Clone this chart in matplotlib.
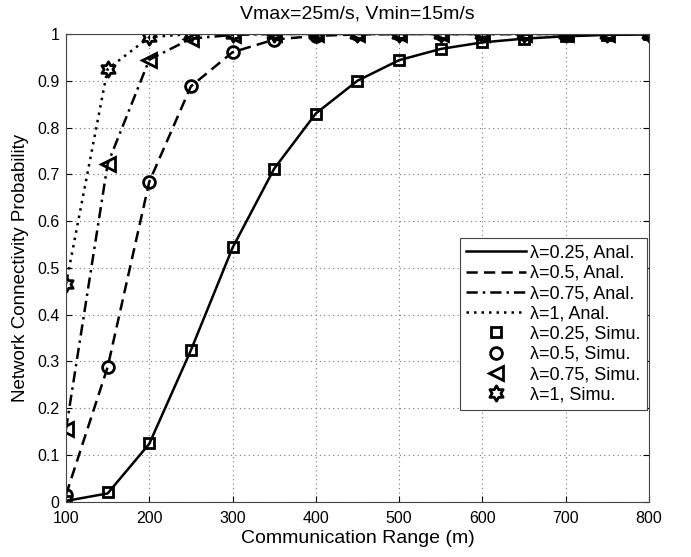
import numpy as np
import matplotlib
matplotlib.use("Agg")
import matplotlib.pyplot as plt
from matplotlib.path import Path

plt.rcParams['font.family'] = ['Liberation Sans', 'DejaVu Sans']

comm_range = [100, 150, 200, 250, 300, 350, 400, 450, 500, 550, 600, 650, 700, 750, 800]

anal_025 = [0.002, 0.018, 0.124, 0.324, 0.543, 0.712, 0.830, 0.900, 0.944, 0.968, 0.982, 0.990, 0.995, 0.998, 0.999]
anal_05 = [0.015, 0.288, 0.684, 0.888, 0.961, 0.988, 0.996, 0.999, 1.0, 1.0, 1.0, 1.0, 1.0, 1.0, 1.0]
anal_075 = [0.155, 0.722, 0.945, 0.990, 0.998, 1.0, 1.0, 1.0, 1.0, 1.0, 1.0, 1.0, 1.0, 1.0, 1.0]
anal_1 = [0.465, 0.925, 0.993, 1.0, 1.0, 1.0, 1.0, 1.0, 1.0, 1.0, 1.0, 1.0, 1.0, 1.0, 1.0]

simu_025 = [0.002, 0.020, 0.125, 0.325, 0.545, 0.712, 0.830, 0.900, 0.944, 0.968, 0.982, 0.990, 0.995, 0.998, 0.999]
simu_05 = [0.015, 0.288, 0.684, 0.888, 0.962, 0.988, 0.996, 0.999, 1.0, 1.0, 1.0, 1.0, 1.0, 1.0, 1.0]
simu_075 = [0.155, 0.722, 0.945, 0.990, 0.998, 1.0, 1.0, 1.0, 1.0, 1.0, 1.0, 1.0, 1.0, 1.0, 1.0]
simu_1 = [0.465, 0.925, 0.993, 1.0, 1.0, 1.0, 1.0, 1.0, 1.0, 1.0, 1.0, 1.0, 1.0, 1.0, 1.0]

anal_labels = ['λ=0.25, Anal.', 'λ=0.5, Anal.', 'λ=0.75, Anal.', 'λ=1, Anal.']
simu_labels = ['λ=0.25, Simu.', 'λ=0.5, Simu.', 'λ=0.75, Simu.', 'λ=1, Simu.']
xtick_vals = [100, 200, 300, 400, 500, 600, 700, 800]
ytick_vals = [0, 0.1, 0.2, 0.3, 0.4, 0.5, 0.6, 0.7, 0.8, 0.9, 1]
ytick_labels = ['0', '0.1', '0.2', '0.3', '0.4', '0.5', '0.6', '0.7', '0.8', '0.9', '1']


def hexagram():
    verts = []
    for k in range(12):
        ang = np.pi / 2 + k * np.pi / 6
        r = 1.0 if k % 2 == 0 else 1.0 / np.sqrt(3)
        verts.append((r * np.cos(ang), r * np.sin(ang)))
    verts.append(verts[0])
    codes = [Path.MOVETO] + [Path.LINETO] * 11 + [Path.CLOSEPOLY]
    return Path(verts, codes)


fig = plt.figure(figsize=(6.91, 5.57), dpi=100)
ax = fig.add_axes([0.0955, 0.099, 0.8435, 0.840])

lw = 1.8
ax.plot(comm_range, anal_025, color='black', linestyle='-', lw=lw, label=anal_labels[0])
ax.plot(comm_range, anal_05, color='black', linestyle=(0, (4.5, 2.5)), lw=lw, label=anal_labels[1])
ax.plot(comm_range, anal_075, color='black', linestyle=(0, (4.5, 2, 1, 2)), lw=lw, label=anal_labels[2])
ax.plot(comm_range, anal_1, color='black', linestyle=(0, (1, 2)), lw=lw, label=anal_labels[3])

mk = dict(color='black', linestyle='none', markerfacecolor='none', markeredgewidth=2)
ax.plot(comm_range, simu_025, marker='s', markersize=7.5, label=simu_labels[0], **mk)
ax.plot(comm_range, simu_05, marker='o', markersize=8.5, label=simu_labels[1], **mk)
ax.plot(comm_range, simu_075, marker='<', markersize=9.5, label=simu_labels[2], **mk)
ax.plot(comm_range, simu_1, marker=hexagram(), markersize=11, label=simu_labels[3], **mk)

ax.set_xlim(100, 800)
ax.set_ylim(0, 1)
ax.set_xticks(xtick_vals)
ax.set_yticks(ytick_vals)
ax.set_yticklabels(ytick_labels)
ax.tick_params(direction='in', length=4, labelsize=11.5, top=True, right=True)
ax.tick_params(axis='x', pad=6.5)
ax.tick_params(axis='y', pad=4.5)
ax.grid(True, linestyle=(0, (1, 3)), color='#777777', lw=0.8)
for s in ax.spines.values():
    s.set_linewidth(0.8)
    s.set_color('#444444')

ax.set_xlabel('Communication Range (m)', fontsize=14, labelpad=3)
ax.set_ylabel('Network Connectivity Probability', fontsize=13.5, labelpad=6)
ax.set_title('Vmax=25m/s, Vmin=15m/s', fontsize=14, pad=11)

leg = ax.legend(loc='center right', bbox_to_anchor=(1.0, 0.38), fontsize=13,
                handlelength=3.3, handletextpad=0.25, borderpad=0.35, labelspacing=0.18,
                fancybox=False, framealpha=1, edgecolor='#444444', borderaxespad=0.1)
leg.get_frame().set_linewidth(0.8)

fig.savefig('out.png', dpi=100)
